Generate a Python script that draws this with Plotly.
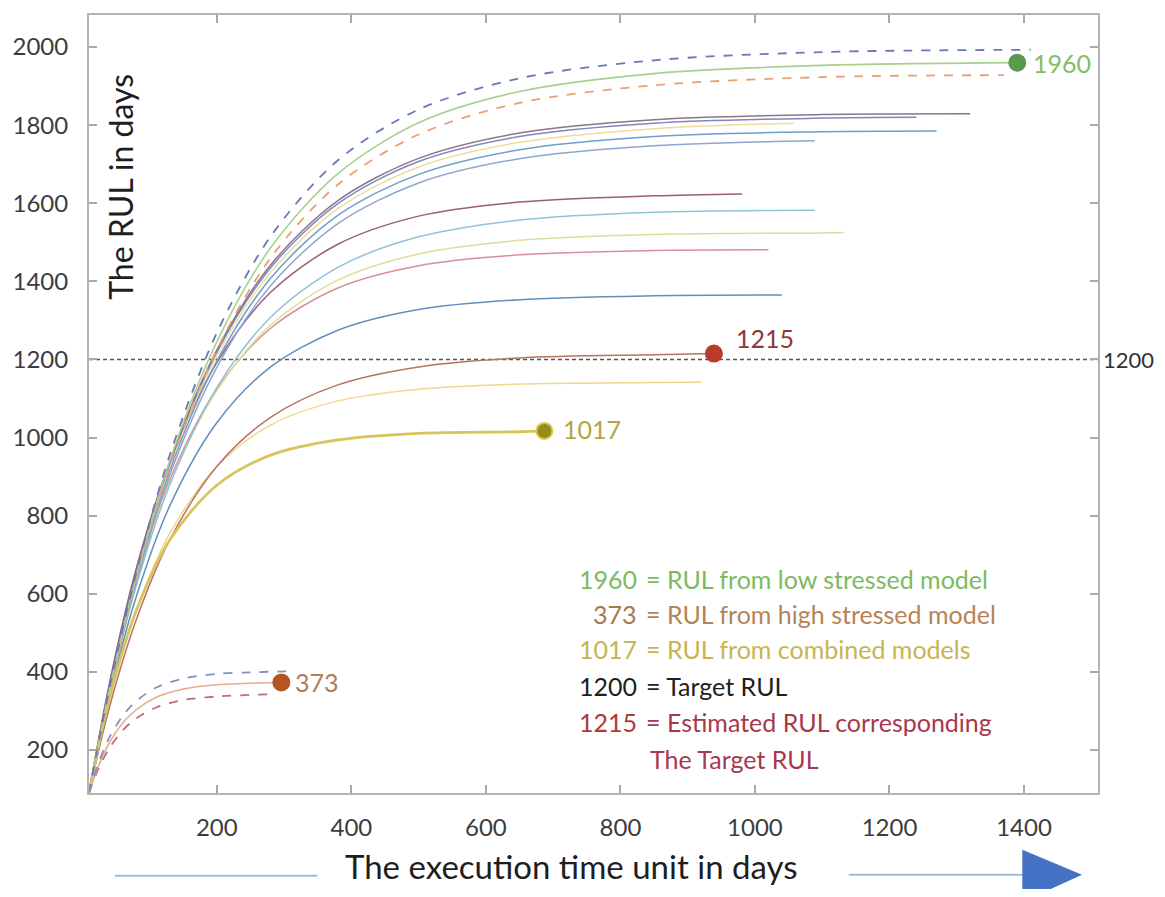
import plotly.graph_objects as go

# ---------------- data ----------------
X_GRID = [10, 40, 80, 130, 200, 280, 380, 500, 650, 850, 1100]
X_SMALL = [10, 25, 40, 60, 80, 110, 150, 200, 250]

# large-RUL family (x = X_GRID truncated + end point)
low_upper_x = X_GRID + [1410]
low_upper_y = [90, 355, 652, 955, 1268, 1515, 1710, 1840, 1920, 1966, 1987, 1993]
low_model_x = X_GRID + [1390]
low_model_y = [90, 350, 642, 940, 1245, 1486, 1676, 1806, 1886, 1932, 1953, 1960]
low_lower_x = X_GRID + [1370]
low_lower_y = [90, 346, 633, 925, 1225, 1460, 1648, 1776, 1857, 1902, 1923, 1928]
c1830_x = X_GRID + [1320]
c1830_y = [90, 358, 650, 937, 1224, 1442, 1607, 1715, 1780, 1814, 1827, 1829]
c1821_x = X_GRID + [1240]
c1821_y = [90, 357, 647, 933, 1219, 1435, 1599, 1707, 1771, 1805, 1818, 1820]
c1805_x = X_GRID[:10] + [1058]
c1805_y = [90, 354, 643, 926, 1209, 1423, 1586, 1693, 1756, 1791, 1805]
c1786_x = X_GRID + [1270]
c1786_y = [90, 351, 636, 916, 1196, 1408, 1569, 1674, 1737, 1771, 1783, 1785]
c1760_x = X_GRID[:10] + [1089]
c1760_y = [90, 347, 628, 904, 1180, 1389, 1548, 1652, 1714, 1747, 1760]
c1624_x = X_GRID[:10] + [981]
c1624_y = [90, 368, 663, 936, 1192, 1372, 1495, 1567, 1603, 1619, 1624]
c1582_x = X_GRID[:10] + [1089]
c1582_y = [90, 345, 619, 879, 1128, 1308, 1436, 1514, 1557, 1577, 1582]
c1525_x = X_GRID + [1132]
c1525_y = [90, 350, 625, 881, 1120, 1288, 1403, 1470, 1505, 1520, 1524, 1525]
c1481_x = X_GRID[:10] + [1020]
c1481_y = [90, 359, 637, 892, 1124, 1280, 1383, 1440, 1468, 1479, 1481]
c1365_x = X_GRID[:10] + [1040]
c1365_y = [90, 336, 591, 825, 1038, 1181, 1275, 1328, 1353, 1363, 1365]
est_x = X_GRID[:10] + [939]
est_y = [90, 307, 532, 738, 926, 1052, 1135, 1181, 1204, 1212, 1215]
c1142_x = X_GRID[:10] + [921]
c1142_y = [90, 322, 555, 755, 926, 1032, 1094, 1124, 1137, 1141, 1142]
comb_x = X_GRID[:9] + [687]
comb_y = [90, 330, 556, 738, 878, 955, 994, 1011, 1015, 1017]

# high-stress family
high_upper_x = X_SMALL + [314]
high_upper_y = [90, 171, 231, 287, 325, 360, 383, 395, 399, 402]
high_model_x = X_SMALL + [296]
high_model_y = [90, 163, 218, 269, 303, 335, 356, 367, 371, 373]
high_lower_x = X_SMALL[:8] + [281]
high_lower_y = [90, 156, 204, 250, 281, 309, 328, 337, 343]

TARGET_RUL = 1200
dot_x = [1390, 296, 687, 939]
dot_y = [1960, 373, 1017, 1215]
dot_labels = ["1960", "373", "1017", "1215"]

x_ticks = [200, 400, 600, 800, 1000, 1200, 1400]
y_ticks = [200, 400, 600, 800, 1000, 1200, 1400, 1600, 1800, 2000]

legend_nums = ["1960", "373", "1017", "1200", "1215", ""]
legend_texts = ["= RUL from low stressed model", "= RUL from high stressed model",
                "= RUL from combined models", "= Target RUL",
                "= Estimated RUL corresponding", "The Target RUL"]

# ---------------- styles ----------------
FONT = "Lato"
curves = [
    (c1365_x, c1365_y, "#5f8fbf", 1.5, None),
    (c1481_x, c1481_y, "#d88e9c", 1.5, None),
    (c1525_x, c1525_y, "#e2dc9c", 1.5, None),
    (c1582_x, c1582_y, "#8fc3d6", 1.5, None),
    (c1624_x, c1624_y, "#9a5d7c", 1.5, None),
    (c1760_x, c1760_y, "#8fa6cf", 1.5, None),
    (c1786_x, c1786_y, "#6e9fca", 1.5, None),
    (c1805_x, c1805_y, "#efdc9c", 1.5, None),
    (c1821_x, c1821_y, "#7f88b8", 1.5, None),
    (c1830_x, c1830_y, "#8a7590", 1.5, None),
    (c1142_x, c1142_y, "#f0d88e", 1.5, None),
    (est_x, est_y, "#b7735f", 1.5, None),
    (comb_x, comb_y, "#d8c45a", 2.8, None),
    (low_lower_x, low_lower_y, "#e8a074", 1.8, "dash"),
    (low_model_x, low_model_y, "#a9d08e", 1.6, None),
    (low_upper_x, low_upper_y, "#6b78b8", 1.8, "dash"),
    (high_lower_x, high_lower_y, "#c46a7c", 1.8, "dash"),
    (high_model_x, high_model_y, "#e8b08e", 1.6, None),
    (high_upper_x, high_upper_y, "#8390c2", 1.8, "dash"),
]

fig = go.Figure()
for xs, ys, col, w, dash in curves:
    fig.add_trace(go.Scatter(
        x=xs, y=ys, mode="lines", hoverinfo="skip", showlegend=False,
        line=dict(color=col, width=w, dash=dash, shape="spline", smoothing=0.9)))

dot_colors = ["#5a9a4e", "#b5561f", "#958c1e", "#b83c29"]
dot_lines = ["#5a9a4e", "#b5561f", "#d8c64e", "#b83c29"]
fig.add_trace(go.Scatter(
    x=dot_x, y=dot_y, mode="markers", hoverinfo="skip", showlegend=False,
    marker=dict(size=16, color=dot_colors, line=dict(color=dot_lines, width=2))))

label_colors = ["#86bb66", "#a98060", "#b4a544", "#8e3838"]
label_shift = [(14, 0), (12, 0), (17, 2), (20, 16)]
for xv, yv, t, c, (dx, dy) in zip(dot_x, dot_y, dot_labels, label_colors, label_shift):
    fig.add_annotation(x=xv, y=yv, text=t, showarrow=False, xanchor="left",
                       yanchor="middle", xshift=dx, yshift=dy,
                       font=dict(family=FONT, size=25, color=c))

# target line
fig.add_shape(type="line", xref="paper", x0=0, x1=1, yref="y", y0=TARGET_RUL, y1=TARGET_RUL,
              line=dict(color="#555555", width=1.5, dash="4px,3px"), layer="below")
fig.add_annotation(xref="paper", x=1, y=TARGET_RUL, text=str(TARGET_RUL), showarrow=False,
                   xanchor="left", xshift=3, font=dict(family=FONT, size=22, color="#333333"))

# legend-like text block
leg_y = [0.2756, 0.2295, 0.1846, 0.1372, 0.0910, 0.0436]
num_cols = ["#7dba5f", "#a9794c", "#c8b450", "#1e1e1e", "#b03838", "#a8384e"]
txt_cols = ["#7dba5f", "#b88354", "#c8b450", "#1e1e1e", "#a8384e", "#a8384e"]
for n, t, y, nc, tc in zip(legend_nums, legend_texts, leg_y, num_cols, txt_cols):
    if n:
        fig.add_annotation(xref="paper", yref="paper", x=0.5455, y=y, text=n, showarrow=False,
                           xanchor="right", yanchor="middle",
                           font=dict(family=FONT, size=25, color=nc))
    fig.add_annotation(xref="paper", yref="paper", x=0.5500 if n else 0.5540, y=y, text=t,
                       showarrow=False, xanchor="left", yanchor="middle",
                       font=dict(family=FONT, size=25, color=tc))

# axis titles
fig.add_annotation(xref="paper", yref="paper", x=0.0316, y=0.779, text="The RUL in days",
                   textangle=-90, showarrow=False, xanchor="center", yanchor="middle",
                   font=dict(family=FONT, size=32, color="#1e1e1e"))
fig.add_annotation(xref="paper", yref="paper", x=0.478, y=-0.0936,
                   text="The execution time unit in days", showarrow=False,
                   xanchor="center", yanchor="middle",
                   font=dict(family=FONT, size=33, color="#1e1e1e"))

# decorative arrow under x axis
fig.add_shape(type="line", xref="paper", yref="paper", x0=0.0257, x1=0.2263, y0=-0.1064, y1=-0.1064,
              line=dict(color="#9fbcd6", width=2))
fig.add_shape(type="line", xref="paper", yref="paper", x0=0.753, x1=0.93, y0=-0.1051, y1=-0.1051,
              line=dict(color="#9fbcd6", width=2))
fig.add_shape(type="path", xref="paper", yref="paper",
              path="M 0.925,-0.0731 L 0.925,-0.1400 L 0.9842,-0.1051 Z",
              fillcolor="#4472c4", line=dict(width=0))

axis_common = dict(showgrid=False, zeroline=False, ticks="inside", ticklen=8, tickwidth=1.5,
                   tickcolor="#a8a8a8", showline=True, linecolor="#b4b4b4", linewidth=2,
                   mirror="ticks", tickfont=dict(family=FONT, size=24, color="#3c3c3c"))
# the page body adds an 8px offset on each side, so the figure is sized to fit without overflow
fig.update_layout(
    width=1149, height=881,
    margin=dict(l=78, r=59, t=5, b=96),
    paper_bgcolor="white", plot_bgcolor="white",
    xaxis=dict(range=[10, 1510], tickvals=x_ticks, ticklabelstandoff=12, **axis_common),
    yaxis=dict(range=[90, 2082], tickvals=y_ticks, ticklabelstandoff=14, **axis_common),
    showlegend=False,
)

fig.write_html("out.html")
